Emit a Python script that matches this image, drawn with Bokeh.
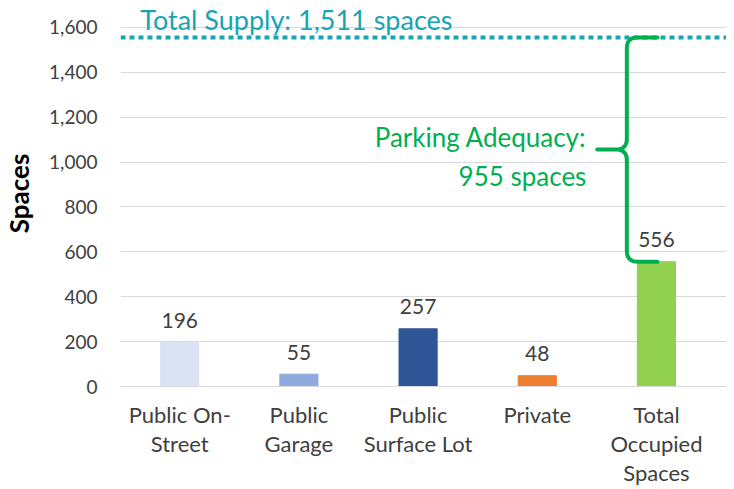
import numpy as np
from bokeh.plotting import figure
from bokeh.models import ColumnDataSource, Range1d, FixedTicker, NumeralTickFormatter
from bokeh.core.properties import value
from bokeh.embed import file_html
from bokeh.resources import INLINE

# ---- data ----
categories = ["Public On-\nStreet", "Public\nGarage", "Public\nSurface Lot", "Private", "Total\nOccupied\nSpaces"]
values = [196, 55, 257, 48, 556]
bar_colors = ["#DAE3F3", "#8FAADC", "#2F5597", "#ED7D31", "#92D050"]
total_supply = 1511
adequacy = 955
supply_line_level = 1555   # where the dotted supply line is drawn in the picture
y_ticks = [0, 200, 400, 600, 800, 1000, 1200, 1400, 1600]

FONT = "Lato"
TXT = "#404040"
GREEN = "#00B050"
TEAL = "#17A5B5"

W, H = 726, 489
LEFT, BOTTOM = 112, 101
FW, FH = W - LEFT, H - BOTTOM
X0 = -0.497
X1 = X0 + FW / 120.75
Y0 = 0
Y1 = FH / 0.22566

xs = list(range(len(categories)))
src = ColumnDataSource(dict(x=xs, top=values, color=bar_colors,
                            label=[str(v) for v in values]))

p = figure(width=W, height=H, output_backend="svg", toolbar_location=None,
           x_range=Range1d(X0, X1), y_range=Range1d(Y0, Y1),
           min_border_left=LEFT, min_border_right=0, min_border_top=0,
           min_border_bottom=BOTTOM)
p.outline_line_color = None
p.background_fill_color = "white"

# scale helpers (px -> data)
px_x = (X1 - X0) / FW
px_y = (Y1 - Y0) / FH

p.vbar(x="x", top="top", width=0.32, color="color", source=src)
p.text(x="x", y="top", text="label", source=src, text_align="center",
       text_baseline="alphabetic", y_offset=-22, text_font=value(FONT),
       text_font_size="21px", text_color=TXT)

# axes
p.xaxis.ticker = FixedTicker(ticks=xs)
p.xaxis.major_label_overrides = {i: c for i, c in zip(xs, categories)}
p.xaxis.major_tick_line_color = None
p.xaxis.major_tick_out = 0
p.xaxis.major_tick_in = 0
p.xaxis.minor_tick_line_color = None
p.xaxis.axis_line_color = "#D9D9D9"
p.xaxis.major_label_text_font = FONT
p.xaxis.major_label_text_font_size = "22px"
p.xaxis.major_label_text_color = TXT
p.xaxis.major_label_standoff = 14
p.xaxis.major_label_text_line_height = 1.09

p.yaxis.ticker = FixedTicker(ticks=y_ticks)
p.yaxis.formatter = NumeralTickFormatter(format="0,0")
p.yaxis.major_tick_line_color = None
p.yaxis.major_tick_out = 0
p.yaxis.major_tick_in = 0
p.yaxis.minor_tick_line_color = None
p.yaxis.axis_line_color = None
p.yaxis.major_label_text_font = FONT
p.yaxis.major_label_text_font_size = "19px"
p.yaxis.major_label_text_color = TXT
p.yaxis.major_label_standoff = 23
p.yaxis.axis_label = "Spaces"
p.yaxis.axis_label_text_font = FONT
p.yaxis.axis_label_text_font_size = "26px"
p.yaxis.axis_label_text_font_style = "bold"
p.yaxis.axis_label_text_color = "#000000"
p.yaxis.axis_label_standoff = 11

p.xgrid.grid_line_color = None
p.ygrid.grid_line_color = "#D9D9D9"
p.ygrid.grid_line_width = 1

# supply dotted line
p.line(x=[X0, X1], y=[supply_line_level, supply_line_level],
       line_color=TEAL, line_width=4, line_dash="5 4", line_cap="butt")
p.text(x=[X0 + 20 * px_x], y=[supply_line_level + 18 * px_y],
       text=[f"Total Supply: {total_supply:,} spaces"], text_font=value(FONT),
       text_font_size="27px", text_color=TEAL, text_baseline="middle",
       text_align="left")

# brace
top = supply_line_level
bot = values[-1]
mid = (top + bot) / 2
xv = xs[-1] - 30 * px_x
hook = 31 * px_x
tip = 30 * px_x
rx, ry = 11 * px_x, 11 * px_y

def quad(p0, c, p1, n=14):
    t = np.linspace(0, 1, n)
    x = (1 - t) ** 2 * p0[0] + 2 * (1 - t) * t * c[0] + t ** 2 * p1[0]
    y = (1 - t) ** 2 * p0[1] + 2 * (1 - t) * t * c[1] + t ** 2 * p1[1]
    return list(x), list(y)

bx, by = [xv + hook], [top]
for seg in [quad((xv + rx, top), (xv, top), (xv, top - ry)),
            quad((xv, mid + ry), (xv, mid), (xv - rx, mid))]:
    bx += seg[0]; by += seg[1]
bx += [xv - tip, xv - rx]; by += [mid, mid]
for seg in [quad((xv - rx, mid), (xv, mid), (xv, mid - ry)),
            quad((xv, bot + ry), (xv, bot), (xv + rx, bot))]:
    bx += seg[0]; by += seg[1]
bx += [xv + hook]; by += [bot]
p.line(x=bx, y=by, line_color=GREEN, line_width=4, line_join="round", line_cap="round")

text_right = xv - 41 * px_x
p.text(x=[text_right, text_right], y=[mid + 57, mid - 120],
       text=["Parking Adequacy:", f"{adequacy} spaces"], text_font=value(FONT),
       text_font_size="26px", text_color=GREEN, text_align="right",
       text_baseline="middle")

open("out.html", "w").write(file_html(p, INLINE))
